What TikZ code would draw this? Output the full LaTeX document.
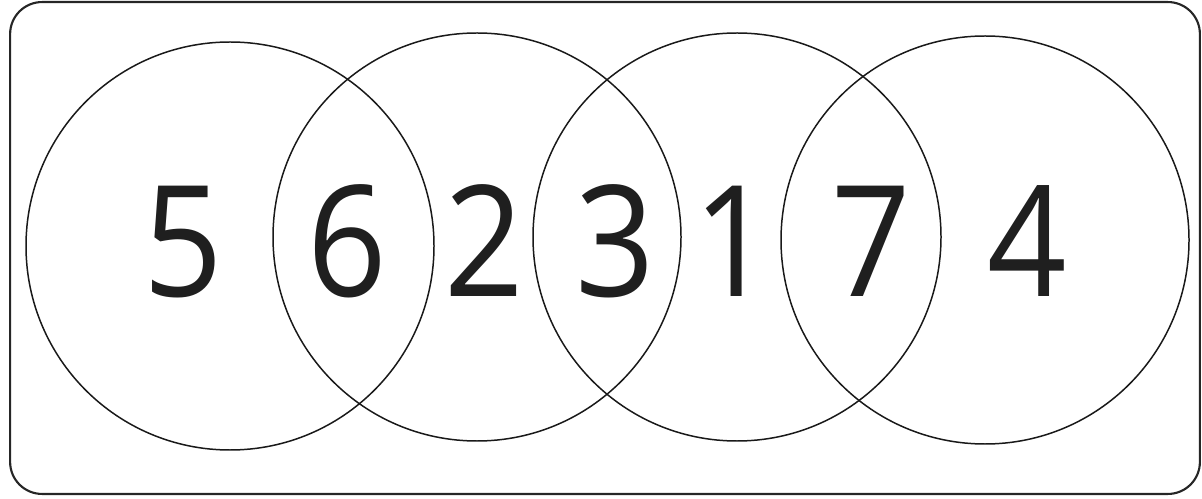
\documentclass[tikz,border=0pt]{standalone}
\usepackage{fontspec}
\setmainfont{Open Sans}
\newcommand{\dg}[1]{\scalebox{0.9}[1]{#1}}
\begin{document}
\begin{tikzpicture}[x=0.02cm,y=-0.02cm,
  ring/.style={draw=black!90,line width=0.85pt},
  digit/.style={font=\fontsize{88}{88}\selectfont,text=black!88,inner sep=0pt,anchor=base}]
\useasboundingbox (0,0) rectangle (1202,499);
\node[draw=black!85,line width=1.2pt,rounded corners=0.64cm,minimum width=23.8cm,minimum height=9.84cm,inner sep=0pt] (frame) at (605,248) {};
\draw[ring] (230,246) circle[radius=204];
\draw[ring] (477,237) circle[radius=204];
\draw[ring] (737,237) circle[radius=204];
\draw[ring] (985,240) circle[radius=204];
\node[digit] (n5) at (183,297) {\dg{5}};
\node[digit] (n6) at (347,297) {\dg{6}};
\node[digit] (n2) at (484,297) {\dg{2}};
\node[digit] (n3) at (615,297) {\dg{3}};
\node[digit] (n1) at (733,297) {\dg{1}};
\node[digit] (n7) at (871,297) {\dg{7}};
\node[digit] (n4) at (1027,297) {\dg{4}};
\end{tikzpicture}
\end{document}
